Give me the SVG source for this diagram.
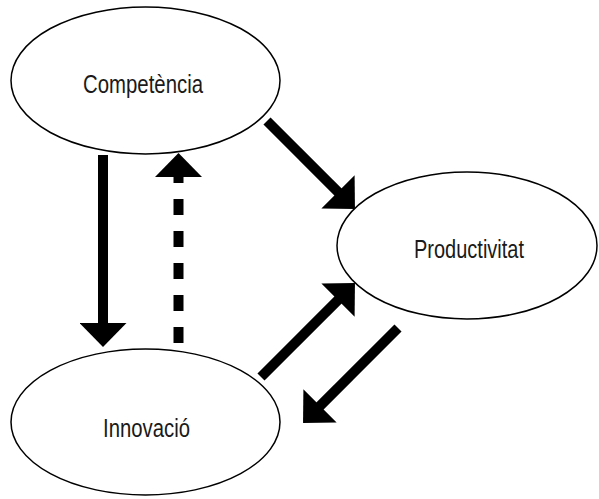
<svg xmlns="http://www.w3.org/2000/svg" width="599" height="499" viewBox="0 0 599 499">
<style>
.node ellipse{fill:#fff;stroke:#000;stroke-width:1.5}
.node text{font-family:"Liberation Sans",Arial,sans-serif;font-size:26px;fill:#1a1a1a}
.conn{stroke:#000;stroke-width:10;fill:none}
.dash{stroke-dasharray:16 16}
</style>
<defs>
<marker id="ah" viewBox="0 0 24 47" refX="2" refY="23.5" markerWidth="24" markerHeight="47" markerUnits="userSpaceOnUse" orient="auto">
<path d="M0,0 L24,23.5 L0,47 Z" fill="#000"/>
</marker>
</defs>
<rect width="599" height="499" fill="#fff"/>
<g id="connectors">
<line class="conn" x1="103" y1="155" x2="103" y2="325" marker-end="url(#ah)"/>
<line class="conn dash" x1="178.5" y1="343" x2="178.5" y2="175" stroke-width="11" marker-end="url(#ah)"/>
<line class="conn" x1="267" y1="121" x2="339.4" y2="193.4" marker-end="url(#ah)"/>
<line class="conn" x1="261" y1="377" x2="339.4" y2="298.6" marker-end="url(#ah)"/>
<line class="conn" x1="398" y1="328" x2="318.6" y2="407.4" marker-end="url(#ah)"/>
</g>
<g id="competencia" class="node">
<ellipse cx="145.5" cy="80.5" rx="134.5" ry="73.5"/>
<text x="83" y="93" textLength="120" lengthAdjust="spacingAndGlyphs">Competència</text>
</g>
<g id="productivitat" class="node">
<ellipse cx="467" cy="245.5" rx="130" ry="73.5"/>
<text x="414" y="258" textLength="110" lengthAdjust="spacingAndGlyphs">Productivitat</text>
</g>
<g id="innovacio" class="node">
<ellipse cx="145.5" cy="422" rx="134.5" ry="73"/>
<text x="103" y="437" textLength="87" lengthAdjust="spacingAndGlyphs">Innovació</text>
</g>
</svg>
